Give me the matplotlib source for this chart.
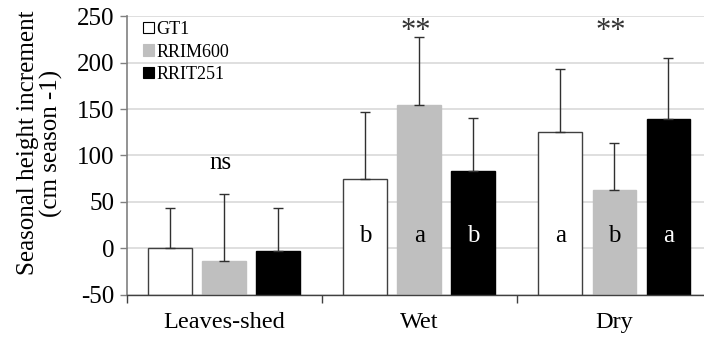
import numpy as np
import matplotlib
matplotlib.use("Agg")
import matplotlib.pyplot as plt
from matplotlib.patches import Patch

plt.rcParams['font.family'] = ['Liberation Serif', 'DejaVu Serif']
plt.rcParams['axes.unicode_minus'] = False

seasons = ['Leaves-shed', 'Wet', 'Dry']
clones = ['GT1', 'RRIM600', 'RRIT251']
means = {
    'GT1': [0, 75, 125],
    'RRIM600': [-14, 154, 63],
    'RRIT251': [-3, 83, 139],
}
err_up = {
    'GT1': [44, 72, 68],
    'RRIM600': [73, 73, 50],
    'RRIT251': [47, 57, 66],
}
letters = {
    'GT1': ['', 'b', 'a'],
    'RRIM600': ['', 'a', 'b'],
    'RRIT251': ['', 'b', 'a'],
}
signif = ['ns', '**', '**']

faces = {'GT1': 'white', 'RRIM600': '#bfbfbf', 'RRIT251': 'black'}
edges = {'GT1': '#404040', 'RRIM600': '#bfbfbf', 'RRIT251': 'black'}
text_col = {'GT1': 'black', 'RRIM600': 'black', 'RRIT251': 'white'}

base = -50
x = np.arange(len(seasons))
offsets = [-0.277, 0.0, 0.277]
width = 0.225

fig = plt.figure(figsize=(7.04, 3.41), dpi=100)
ax = fig.add_axes([0.180, 0.135, 0.820, 0.818])

for c, off in zip(clones, offsets):
    vals = np.array(means[c])
    ax.bar(x + off, vals - base, bottom=base, width=width, color=faces[c],
           edgecolor=edges[c], linewidth=1, zorder=2)
    ax.errorbar(x + off, vals, yerr=[np.zeros(3), err_up[c]], fmt='none',
                ecolor='#303030', elinewidth=1, capsize=3.5, capthick=1, zorder=3)
    for xi, lab in zip(x + off, letters[c]):
        if lab:
            ax.text(xi, 13, lab, ha='center', va='center', fontsize=18,
                    color=text_col[c], zorder=4)

ax.text(x[0] - 0.02, 92, signif[0], ha='center', va='center', fontsize=18)
for xi, s in zip(x[1:], signif[1:]):
    ax.text(xi - 0.02, 233, s, ha='center', va='center', fontsize=22,
            color='#333333')

ax.set_ylim(-50, 250)
ax.set_xlim(-0.5, 2.459)
ax.set_yticks(range(-50, 251, 50))
ax.set_xticks(x)
ax.set_xticklabels(seasons)
ax.set_xticks([-0.5, 0.5, 1.5], minor=True)
ax.tick_params(axis='x', which='major', length=0, pad=12, labelsize=17.5)
ax.tick_params(axis='x', which='minor', length=6, width=1, color='#404040')
ax.tick_params(axis='y', length=5, width=1, color='#808080', labelsize=18, pad=4)

ax.grid(axis='y', color='#d9d9d9', linewidth=1.2, zorder=0)
ax.set_axisbelow(True)
for s in ['top', 'right']:
    ax.spines[s].set_visible(False)
ax.spines['left'].set_color('#808080')
ax.spines['left'].set_linewidth(1.2)
ax.spines['bottom'].set_color('#404040')
ax.spines['bottom'].set_linewidth(1)

fig.text(40 / 704, 0.58, 'Seasonal height increment\n(cm season -1)', fontsize=18,
         rotation=90, ha='center', va='center', linespacing=1.1)

handles = [Patch(facecolor=faces[c], edgecolor='black' if c == 'GT1' else faces[c],
                 linewidth=0.8) for c in clones]
ax.legend(handles, clones, loc='upper left', bbox_to_anchor=(0.0, 1.04),
          frameon=False, fontsize=13, handlelength=0.6, handleheight=0.6,
          handletextpad=0.15, labelspacing=0.3, borderaxespad=0.5)

fig.savefig('out.png', dpi=100)
